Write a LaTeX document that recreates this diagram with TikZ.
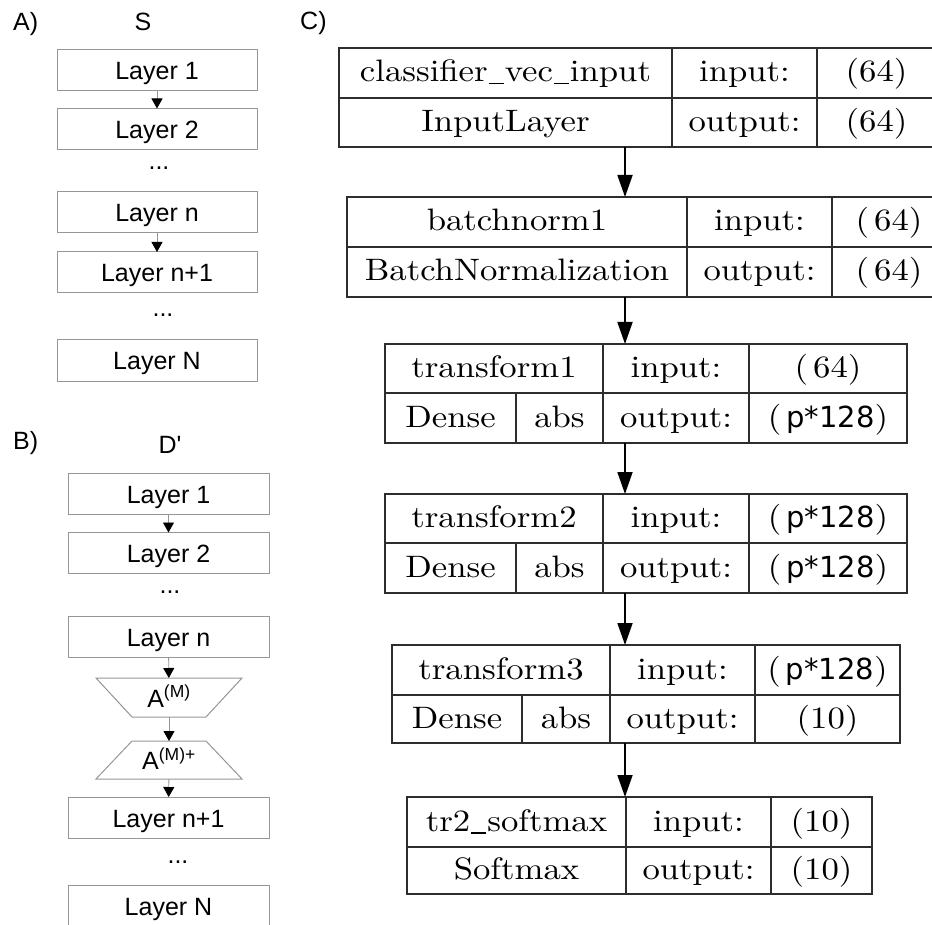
\documentclass[tikz,border=0pt]{standalone}
\usepackage{fontspec}
\newfontfamily\lsans{Liberation Sans}
\newfontfamily\dsans{DejaVu Sans}
\newfontfamily\cserif[Extension=.otf, FakeStretch=1.12]{lmroman10-regular}
\usetikzlibrary{arrows.meta}
\definecolor{boxgray}{RGB}{150,150,150}
\definecolor{cline}{RGB}{45,45,45}
\newcommand\cellbox[6]{%
  \node[cell, minimum width={(#3-#2)*1pt}, minimum height={(#5-#4)*1pt}] (#1) at ({(#2+#3)/2},{(#4+#5)/2}) {#6};}
\newcommand\pp{(\,{\dsans\fontsize{29}{34}\selectfont p*128})}
\newcommand\us{\kern1pt\rule[-2.5pt]{15pt}{1.4pt}\kern1pt}
\begin{document}
\begin{tikzpicture}[x=1pt,y=-1pt,
  asans/.style={font=\lsans\fontsize{25}{30}\selectfont},
  ablock/.style={asans, draw=boxgray, line width=1pt, minimum width=200pt, minimum height=41pt,
    inner sep=0pt, outer sep=0pt, text height=23pt, text depth=4pt},
  aopen/.style={asans, minimum width=200pt, minimum height=41pt,
    inner sep=0pt, outer sep=0pt, text height=23pt, text depth=4pt},
  alabel/.style={asans, inner sep=0pt},
  aarrow/.style={draw=boxgray, line width=0.9pt, -{Triangle[length=10pt,width=11pt,color=black]}},
  cell/.style={draw=cline, line width=1.8pt, inner sep=0pt, outer sep=0pt,
    font=\cserif\fontsize{31}{38}\selectfont, text height=24pt, text depth=6pt},
  carrow/.style={draw=black, line width=1.8pt, -{Triangle[length=22pt,width=15pt]}}]
\useasboundingbox (0,0) rectangle (932,925);
\clip (0,0) rectangle (932,925);

% ---------- Panel A ----------
\node[alabel, anchor=base west] (labA) at (13,31) {A)};
\node[alabel, anchor=base] (labS) at (143,31) {S};
\node[ablock] (A1) at (157,70.5) {Layer 1};
\node[ablock] (A2) at (157,129) {Layer 2};
\node[alabel] (Ad1) at (159,168) {...};
\node[ablock] (An) at (157,212.5) {Layer n};
\node[ablock] (An1) at (157,272.5) {Layer n+1};
\node[alabel] (Ad2) at (163,315) {...};
\node[ablock] (AN) at (157,360.5) {Layer N};
\draw[aarrow] (A1) -- (A2);
\draw[aarrow] (An) -- (An1);

% ---------- Panel B ----------
\node[alabel, anchor=base west] (labB) at (13,449) {B)};
\node[alabel, anchor=base] (labD) at (170,453) {D'};
\node[ablock, minimum width=201pt] (B1) at (168.5,493.5) {Layer 1};
\node[ablock, minimum width=201pt] (B2) at (168.5,553) {Layer 2};
\node[alabel] (Bd1) at (170,592) {...};
\node[ablock, minimum width=201pt] (Bn) at (168.5,636.5) {Layer n};
\node[aopen, minimum width=146pt, minimum height=39pt] (tA) at (169,697.5) {A\textsuperscript{(M)}};
\draw[boxgray, line width=1pt] (tA.north west) -- (tA.north east)
  -- ([xshift=-36pt]tA.south east) -- ([xshift=36pt]tA.south west) -- cycle;
\node[aopen, minimum width=146pt, minimum height=38pt] (tB) at (169,760) {A\textsuperscript{(M)+}};
\draw[boxgray, line width=1pt] ([xshift=36pt]tB.north west) -- ([xshift=-36pt]tB.north east)
  -- (tB.south east) -- (tB.south west) -- cycle;
\node[ablock, minimum width=201pt] (Bn1) at (168.5,817.5) {Layer n+1};
\node[alabel] (Bd2) at (178,862) {...};
\node[aopen, minimum width=201pt] (BN) at (168.5,905.5) {Layer N};
\draw[boxgray, line width=1pt] ([yshift=-5pt]BN.south west) -- (BN.north west) -- (BN.north east) -- ([yshift=-5pt]BN.south east);
\draw[aarrow] (B1) -- (B2);
\draw[aarrow] (Bn) -- (tA);
\draw[aarrow] (tA) -- (tB);
\draw[aarrow] (tB) -- (Bn1);

% ---------- Panel C ----------
\node[alabel, anchor=base west] (labC) at (300,30) {C)};
\coordinate (ax) at (625,0);

% box 1
\cellbox{c1a}{339}{672}{48}{98}{classifier\us vec\us input}
\cellbox{c1b}{672}{817}{48}{98}{input:}
\cellbox{c1c}{817}{936}{48}{98}{(64)}
\cellbox{c1d}{339}{672}{98}{147}{InputLayer}
\cellbox{c1e}{672}{817}{98}{147}{output:}
\cellbox{c1f}{817}{936}{98}{147}{(64)}
% box 2
\cellbox{c2a}{347}{687}{197}{247}{batchnorm1}
\cellbox{c2b}{687}{832}{197}{247}{input:}
\cellbox{c2c}{832}{946}{197}{247}{(\,64)}
\cellbox{c2d}{347}{687}{247}{297}{BatchNormalization}
\cellbox{c2e}{687}{832}{247}{297}{output:}
\cellbox{c2f}{832}{946}{247}{297}{(\,64)}
% box 3
\cellbox{c3a}{385}{603}{344}{393}{transform1}
\cellbox{c3b}{603}{749}{344}{393}{input:}
\cellbox{c3c}{749}{907}{344}{393}{(\,64)}
\cellbox{c3d}{385}{516}{393}{443}{Dense}
\cellbox{c3e}{516}{603}{393}{443}{abs}
\cellbox{c3f}{603}{749}{393}{443}{output:}
\cellbox{c3g}{749}{907}{393}{443}{\pp}
% box 4
\cellbox{c4a}{385}{603}{494}{543}{transform2}
\cellbox{c4b}{603}{749}{494}{543}{input:}
\cellbox{c4c}{749}{907}{494}{543}{\pp}
\cellbox{c4d}{385}{516}{543}{593}{Dense}
\cellbox{c4e}{516}{603}{543}{593}{abs}
\cellbox{c4f}{603}{749}{543}{593}{output:}
\cellbox{c4g}{749}{907}{543}{593}{\pp}
% box 5
\cellbox{c5a}{392}{610}{645}{695}{transform3}
\cellbox{c5b}{610}{755}{645}{695}{input:}
\cellbox{c5c}{755}{900}{645}{695}{\pp}
\cellbox{c5d}{392}{522}{695}{743}{Dense}
\cellbox{c5e}{522}{610}{695}{743}{abs}
\cellbox{c5f}{610}{755}{695}{743}{output:}
\cellbox{c5g}{755}{900}{695}{743}{(10)}
% box 6
\cellbox{c6a}{407}{626}{797}{847}{tr2\us softmax}
\cellbox{c6b}{626}{771}{797}{847}{input:}
\cellbox{c6c}{771}{872}{797}{847}{(10)}
\cellbox{c6d}{407}{626}{847}{894}{Softmax}
\cellbox{c6e}{626}{771}{847}{894}{output:}
\cellbox{c6f}{771}{872}{847}{894}{(10)}

\draw[carrow] (c1d.south -| ax) -- (c2a.north -| ax);
\draw[carrow] (c2d.south -| ax) -- (c3b.north -| ax);
\draw[carrow] (c3f.south -| ax) -- (c4b.north -| ax);
\draw[carrow] (c4f.south -| ax) -- (c5b.north -| ax);
\draw[carrow] (c5f.south -| ax) -- (c6a.north -| ax);
\end{tikzpicture}
\end{document}
